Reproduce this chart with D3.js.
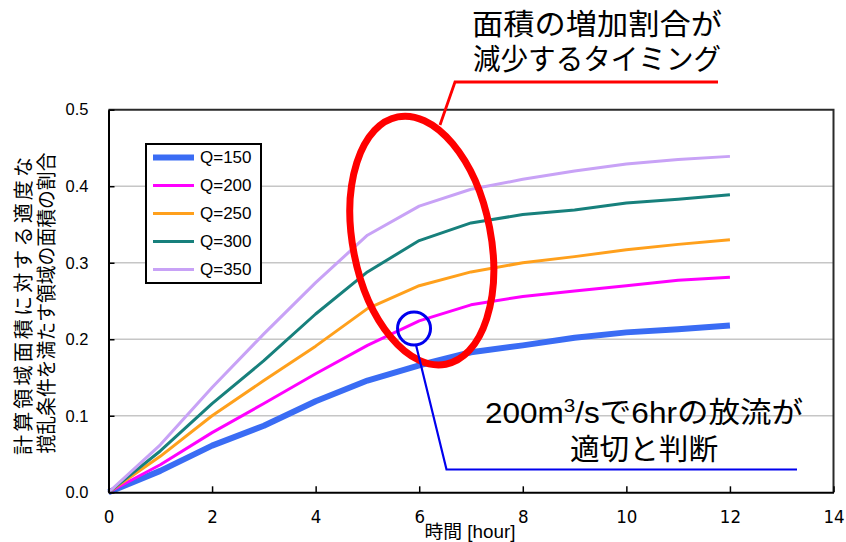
<!DOCTYPE html>
<html><head><meta charset="utf-8">
<script src="https://cdn.jsdelivr.net/npm/d3@7/dist/d3.min.js"></script>
<style>
html,body{margin:0;padding:0;background:#fff;}
svg{display:block;}
</style>
</head><body>
<svg id="chart" width="846" height="542"></svg>
<script>
// ---- data ----
const hours = [0,1,2,3,4,5,6,7,8,9,10,11,12];
const seriesNames = ["Q=150","Q=200","Q=250","Q=300","Q=350"];
const q150 = [0,0.028,0.061,0.087,0.119,0.146,0.166,0.183,0.192,0.202,0.209,0.213,0.218];
const q200 = [0,0.036,0.078,0.116,0.155,0.192,0.224,0.245,0.256,0.263,0.270,0.277,0.281];
const q250 = [0,0.047,0.100,0.146,0.191,0.240,0.270,0.288,0.300,0.308,0.317,0.324,0.330];
const q300 = [0,0.054,0.116,0.172,0.233,0.288,0.329,0.352,0.363,0.369,0.378,0.383,0.389];
const q350 = [0,0.062,0.137,0.207,0.274,0.336,0.374,0.396,0.409,0.420,0.429,0.435,0.439];
const seriesValues = [q150,q200,q250,q300,q350];
const seriesColors = ["#3a6cf4","#ff00ff","#ffa01c","#17807c","#c8a2f6"];
const seriesWidths = [6,3,3,3,3];
const xTickValues = [0,2,4,6,8,10,12,14];
const yTickValues = [0,0.1,0.2,0.3,0.4,0.5];
const xTitle = "時間 [hour]";
const yTitle1 = "計算領域面積に対する適度な";
const yTitle2 = "撹乱条件を満たす領域の面積の割合";
const note1 = ["面積の増加割合が","減少するタイミング"];
const note2b = "適切と判断";

// ---- layout ----
const svg = d3.select("#chart");
const X0=108.5, X1=833.5, Y0=492.3, Y1=109.7;
const x = d3.scaleLinear().domain([0,14]).range([X0,X1]);
const y = d3.scaleLinear().domain([0,0.5]).range([Y0,Y1]);

// plot background
svg.append("rect").attr("x",X0).attr("y",Y1).attr("width",X1-X0).attr("height",Y0-Y1).attr("fill","#fff");

// gridlines
svg.append("g").selectAll("line").data(yTickValues.filter(v=>v>0 && v<0.5)).join("line")
  .attr("x1",X0).attr("x2",X1).attr("y1",d=>y(d)).attr("y2",d=>y(d))
  .attr("stroke","#c6c6c6").attr("stroke-width",1.6);

// series lines
const line = d3.line().x((d,i)=>x(hours[i])).y(d=>y(d));
svg.append("g").selectAll("path").data(seriesValues).join("path")
  .attr("d",d=>line(d)).attr("fill","none")
  .attr("stroke",(d,i)=>seriesColors[i]).attr("stroke-width",(d,i)=>seriesWidths[i])
  .attr("stroke-linejoin","round");

// top/right border
svg.append("path").attr("d",`M${X0},${Y1}H${X1}V${Y0}`).attr("fill","none").attr("stroke","#2a2a2a").attr("stroke-width",2);

// axes
const xAxis = d3.axisBottom(x).tickValues(xTickValues).tickSizeInner(-6).tickSizeOuter(0).tickPadding(14);
const gx = svg.append("g").attr("transform",`translate(0,${Y0})`).call(xAxis);
gx.select(".domain").attr("stroke","#000").attr("stroke-width",2);
gx.selectAll(".tick line").attr("stroke","#000").attr("stroke-width",1.5);
gx.selectAll(".tick text").attr("font-family","'Liberation Sans Narrow','DejaVu Sans Condensed',sans-serif")
  .attr("font-size",18.5).attr("fill","#000").attr("dy","0.9em");

const yAxis = d3.axisLeft(y).tickValues(yTickValues).tickFormat(d3.format(".1f")).tickSizeInner(-6).tickSizeOuter(0).tickPadding(20);
const gy = svg.append("g").attr("transform",`translate(${X0},0)`).call(yAxis);
gy.select(".domain").attr("stroke","#000").attr("stroke-width",2);
gy.selectAll(".tick line").attr("stroke","#000").attr("stroke-width",1.5);
gy.selectAll(".tick text").attr("font-family","'Liberation Sans',Arial,sans-serif")
  .attr("font-size",16.5).attr("fill","#000");

// axis titles
const jpTitle = "'Liberation Sans','Noto Sans CJK JP',sans-serif";
svg.append("text").attr("x",470).attr("y",538).attr("text-anchor","middle")
  .attr("font-family",jpTitle).attr("font-size",18.5)
  .attr("textLength",91).attr("lengthAdjust","spacingAndGlyphs")
  .text(xTitle);
svg.append("text").attr("transform","translate(24,306) rotate(-90)")
  .attr("text-anchor","middle").attr("dominant-baseline","central")
  .attr("font-family",jpTitle).attr("font-size",20)
  .attr("textLength",298).attr("lengthAdjust","spacing").text(yTitle1);
svg.append("text").attr("transform","translate(46.5,303) rotate(-90)")
  .attr("text-anchor","middle").attr("dominant-baseline","central")
  .attr("font-family",jpTitle).attr("font-size",20)
  .attr("textLength",301).attr("lengthAdjust","spacingAndGlyphs").text(yTitle2);

// legend
const lg = svg.append("g");
lg.append("rect").attr("x",146).attr("y",144).attr("width",115).attr("height",139)
  .attr("fill","#fff").attr("stroke","#000").attr("stroke-width",2);
const rows = lg.selectAll("g.row").data(seriesNames).join("g").attr("class","row")
  .attr("transform",(d,i)=>`translate(0,${157.5+i*28})`);
rows.append("line").attr("x1",153).attr("x2",194).attr("y1",0).attr("y2",0)
  .attr("stroke",(d,i)=>seriesColors[i]).attr("stroke-width",(d,i)=>seriesWidths[i]);
rows.append("text").attr("x",200).attr("y",0).attr("dominant-baseline","central")
  .attr("font-family","'Liberation Sans',Arial,sans-serif").attr("font-size",17).attr("fill","#000")
  .text(d=>d);

// ---- annotations ----
const jp = "'Liberation Sans','Noto Sans CJK JP',sans-serif";
// red ellipse + leader
svg.append("ellipse").attr("cx",x(6.05)).attr("cy",y(0.329)).attr("rx",69).attr("ry",126)
  .attr("transform",`rotate(-11,${x(6.05)},${y(0.329)})`)
  .attr("fill","none").attr("stroke","#ff0000").attr("stroke-width",7);
svg.append("path").attr("d","M440,125 L455,82 H718").attr("fill","none").attr("stroke","#ff0000").attr("stroke-width",2.8);
svg.append("text").attr("x",597).attr("y",35).attr("text-anchor","middle").attr("font-family",jp)
  .attr("font-size",29).attr("fill","#000").attr("textLength",250).attr("lengthAdjust","spacingAndGlyphs").text(note1[0]);
svg.append("text").attr("x",597).attr("y",70).attr("text-anchor","middle").attr("font-family",jp)
  .attr("font-size",29).attr("fill","#000").attr("textLength",248).attr("lengthAdjust","spacingAndGlyphs").text(note1[1]);

// blue circle + leader
svg.append("circle").attr("cx",x(5.9)).attr("cy",y(0.214)).attr("r",16.5)
  .attr("fill","none").attr("stroke","#0000ee").attr("stroke-width",3);
svg.append("path").attr("d","M416,345 L446.5,469.5 H797").attr("fill","none").attr("stroke","#0000ee").attr("stroke-width",2.2);
const t2 = svg.append("text").attr("x",644).attr("y",423).attr("text-anchor","middle").attr("font-family",jp)
  .attr("font-size",29).attr("fill","#000").attr("textLength",318).attr("lengthAdjust","spacingAndGlyphs");
t2.append("tspan").text("200m");
t2.append("tspan").attr("font-size",19).attr("dy",-11).text("3");
t2.append("tspan").attr("dy",11).text("/sで6hrの放流が");
svg.append("text").attr("x",644).attr("y",460).attr("text-anchor","middle").attr("font-family",jp)
  .attr("font-size",29).attr("fill","#000").attr("textLength",148).attr("lengthAdjust","spacingAndGlyphs").text(note2b);
</script>
</body></html>
